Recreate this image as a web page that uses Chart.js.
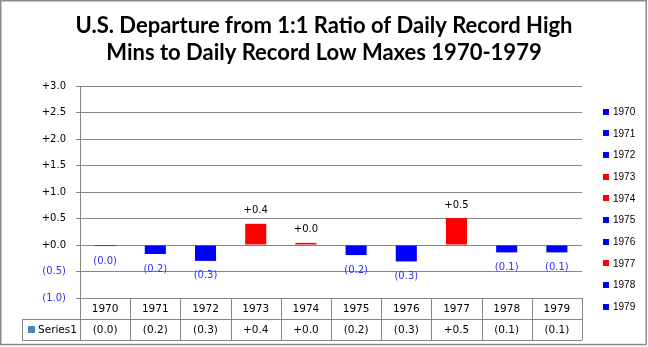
<!DOCTYPE html>
<html>
<head>
<meta charset="utf-8">
<script src="https://cdn.jsdelivr.net/npm/chart.js@4.4.1/dist/chart.umd.min.js"></script>
<style>
  html, body { margin: 0; padding: 0; background: #fff; }
  canvas { display: block; }
</style>
</head>
<body>
<canvas id="departureChart" width="648" height="347"></canvas>
<script>
// Departure from 1:1 ratio, record high mins vs record low maxes
const years = ['1970', '1971', '1972', '1973', '1974', '1975', '1976', '1977', '1978', '1979'];
const departure = [-0.02, -0.17, -0.30, 0.40, 0.04, -0.19, -0.31, 0.51, -0.14, -0.14];
const titleLines = ['U.S. Departure from 1:1 Ratio of Daily Record High', 'Mins to Daily Record Low Maxes 1970-1979'];
const seriesName = 'Series1';

const POS_COLOR = '#ff0000';
const NEG_COLOR = '#0000ff';
const NEG_TEXT = '#2f2ff5';
const LINE_COLOR = '#868686';
const SERIES_KEY = '#4f81bd';

function fmt(v) {
    const r = Math.round(Math.abs(v) * 10) / 10;
    return v < 0 ? '(' + r.toFixed(1) + ')' : '+' + r.toFixed(1);
}
const barColors = departure.map(v => v < 0 ? NEG_COLOR : POS_COLOR);

// title, value labels, legend, data table and outer frame
const extras = {
    id: 'extras',
    afterDraw(chart) {
        const ctx = chart.ctx;
        const area = chart.chartArea;
        const xs = chart.scales.x;
        const meta = chart.getDatasetMeta(0);
        ctx.save();

        // title
        ctx.fillStyle = '#000';
        ctx.textAlign = 'center';
        ctx.textBaseline = 'alphabetic';
        ctx.font = 'bold 22px Lato';
        ctx.fillText(titleLines[0], 324, 33);
        ctx.fillText(titleLines[1], 324, 60);

        // value labels
        ctx.font = '10px "DejaVu Sans"';
        ctx.textBaseline = 'middle';
        meta.data.forEach((bar, i) => {
            const v = departure[i];
            if (v < 0) {
                ctx.fillStyle = NEG_TEXT;
                ctx.fillText(fmt(v), bar.x, Math.max(bar.y, bar.base) + 15);
            } else {
                ctx.fillStyle = '#000';
                ctx.fillText(fmt(v), bar.x, Math.min(bar.y, bar.base) - 13);
            }
        });

        // legend
        ctx.textAlign = 'left';
        ctx.font = '10px "Liberation Sans"';
        years.forEach((y, i) => {
            const cy = 111.7 + i * 21.67;
            ctx.fillStyle = barColors[i];
            ctx.fillRect(603, Math.round(cy - 3), 6, 6);
            ctx.fillStyle = '#000';
            ctx.fillText(y, 613, cy + 0.5);
        });

        // data table
        const top = area.bottom;
        const mid = top + 21;
        const bot = mid + 21;
        const colW = (area.right - area.left) / years.length;
        ctx.strokeStyle = LINE_COLOR;
        ctx.lineWidth = 1;
        ctx.beginPath();
        ctx.moveTo(22, mid + 0.5); ctx.lineTo(area.right, mid + 0.5);
        ctx.moveTo(22, bot + 0.5); ctx.lineTo(area.right, bot + 0.5);
        ctx.moveTo(22.5, mid); ctx.lineTo(22.5, bot);
        for (let k = 0; k <= years.length; k++) {
            const x = Math.round(area.left + k * colW) + 0.5;
            ctx.moveTo(x, top); ctx.lineTo(x, bot);
        }
        ctx.stroke();

        ctx.font = '10.5px "DejaVu Sans"';
        ctx.textAlign = 'center';
        ctx.fillStyle = '#000';
        years.forEach((y, i) => {
            const cx = xs.getPixelForValue(i);
            ctx.fillText(y, cx, top + 11);
            ctx.fillText(fmt(departure[i]), cx, mid + 11);
        });
        ctx.fillStyle = SERIES_KEY;
        ctx.fillRect(28, mid + 7, 7, 7);
        ctx.fillStyle = '#000';
        ctx.textAlign = 'left';
        ctx.fillText(seriesName, 38, mid + 11);

        // outer frame
        ctx.strokeStyle = '#8a8a8a';
        ctx.lineWidth = 1.5;
        ctx.strokeRect(0.75, 0.75, 645.5, 343.8);
        ctx.restore();
    }
};

new Chart(document.getElementById('departureChart'), {
    type: 'bar',
    data: {
        labels: years,
        datasets: [{
            label: seriesName,
            data: departure,
            backgroundColor: barColors,
            borderWidth: 0,
            barPercentage: 0.42,
            categoryPercentage: 1
        }]
    },
    options: {
        responsive: false,
        animation: false,
        layout: { padding: { left: 0, right: 66, top: 86, bottom: 49 } },
        plugins: {
            legend: { display: false },
            title: { display: false },
            tooltip: { enabled: false }
        },
        scales: {
            x: { display: false },
            y: {
                min: -1,
                max: 3,
                afterFit(scale) { scale.width = 80; },
                border: { color: LINE_COLOR },
                grid: { color: LINE_COLOR, tickLength: 4 },
                ticks: {
                    stepSize: 0.5,
                    padding: 10,
                    font: { family: 'DejaVu Sans', size: 10 },
                    color: c => c.tick.value < 0 ? NEG_TEXT : '#000',
                    callback: v => fmt(v)
                }
            }
        }
    },
    plugins: [extras]
});
</script>
</body>
</html>
